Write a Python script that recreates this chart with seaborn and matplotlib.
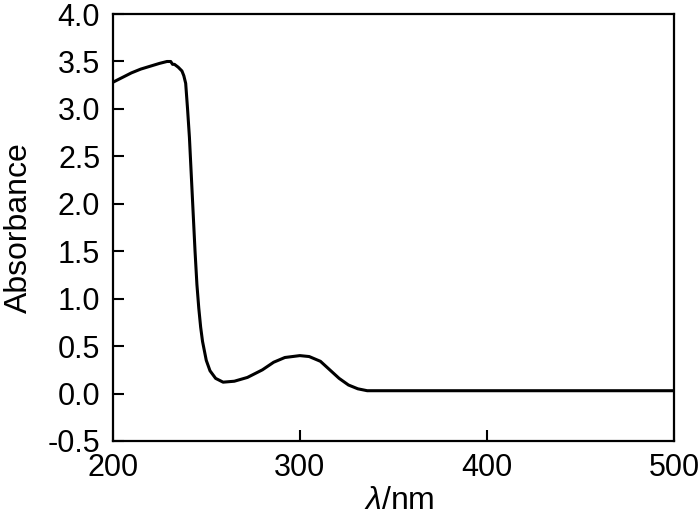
import matplotlib
matplotlib.use("Agg")
import matplotlib.pyplot as plt
import seaborn as sns
import pandas as pd

wavelength = [200, 205, 210, 215, 220, 225, 229, 231, 232, 233, 235, 237, 238, 239, 240, 241,
              242, 243, 244, 245, 246, 247, 248, 249, 250, 252, 255, 259, 265, 272, 280,
              286, 292, 300, 305, 311, 316, 321, 326, 331, 336, 350, 400, 450, 500]
absorbance = [3.28, 3.33, 3.38, 3.42, 3.45, 3.48, 3.50, 3.50, 3.47, 3.47, 3.44, 3.40, 3.35, 3.27, 3.00, 2.70,
              2.30, 1.90, 1.50, 1.15, 0.90, 0.70, 0.55, 0.45, 0.35, 0.24, 0.16, 0.12, 0.13, 0.17, 0.25,
              0.33, 0.38, 0.40, 0.39, 0.34, 0.25, 0.16, 0.09, 0.05, 0.03, 0.03, 0.03, 0.03, 0.03]

df = pd.DataFrame({"wl": wavelength, "abs": absorbance})

sns.set_style("ticks")
plt.rcParams["font.family"] = ["Liberation Sans", "DejaVu Sans"]
plt.rcParams["mathtext.fontset"] = "custom"
plt.rcParams["mathtext.it"] = "Liberation Sans:italic"
plt.rcParams["mathtext.rm"] = "Liberation Sans"
plt.rcParams["text.color"] = "black"
plt.rcParams["axes.labelcolor"] = "black"

fig = plt.figure(figsize=(7, 5.15), dpi=100)
ax = fig.add_axes([0.161, 0.1437, 0.802, 0.829])
sns.lineplot(data=df, x="wl", y="abs", ax=ax, color="black", linewidth=2.2)

ax.set_xlim(200, 500)
ax.set_ylim(-0.5, 4.0)
ax.set_xticks([200, 300, 400, 500])
ax.set_yticks([-0.5, 0.0, 0.5, 1.0, 1.5, 2.0, 2.5, 3.0, 3.5, 4.0])
ax.set_yticklabels(["-0.5", "0.0", "0.5", "1.0", "1.5", "2.0", "2.5", "3.0", "3.5", "4.0"])
ax.tick_params(direction="in", length=8, width=1.5, labelsize=22, colors="black", labelcolor="black")
ax.tick_params(axis="y", pad=9)
ax.tick_params(axis="x", pad=9)
for s in ax.spines.values():
    s.set_linewidth(1.6)
    s.set_color("black")
ax.set_xlabel(r"$\lambda$/nm", fontsize=23, labelpad=2, color="black")
ax.xaxis.label.set_x(0.51)
ax.set_ylabel("Absorbance", fontsize=23, labelpad=10, color="black")

fig.savefig("out.png", dpi=100)
